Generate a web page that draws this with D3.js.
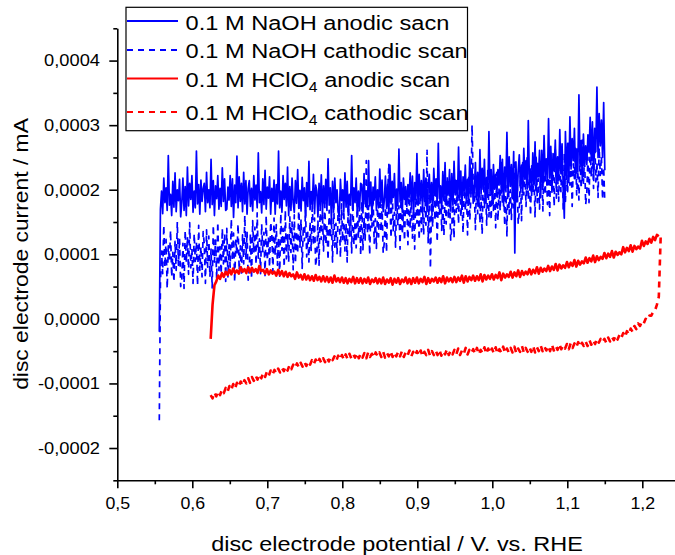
<!DOCTYPE html>
<html lang="en">
<head>
<meta charset="UTF-8">
<title>Disc electrode current vs potential</title>
<script src="https://cdn.jsdelivr.net/npm/d3@7"></script>
<style>
  body { margin: 0; background: #fff; }
  svg { display: block; font-family: "Liberation Sans", Arial, sans-serif; }
  .axis path, .axis line { stroke: #000; stroke-width: 1.6px; }
  .axis text { font-size: 16.8px; fill: #000; font-family: "Liberation Sans", Arial, sans-serif; }
  .trace { fill: none; stroke-linejoin: round; }
</style>
</head>
<body>
<svg id="chart" width="675" height="555"></svg>
<script>
// currents are stored in units of 1e-6 mA, potentials in V vs RHE
var currentUnit = 1e-6;

// 0.1 M NaOH, potential grid 0.556 V .. 1.150 V
var naohStart = 0.556, naohStep = 0.0015;
var naohAnodic = [
  -20, 170, 198, 163, 218, 180, 203, 168, 253, 176, 193, 160, 213, 173, 226, 166, 200, 183, 216, 158,
  180, 218, 168, 205, 160, 235, 175, 210, 185, 222, 165, 198, 172, 260, 178, 208, 162, 215, 182, 202,
  210, 166, 227, 180, 200, 172, 247, 177, 214, 160, 206, 186, 222, 170, 202, 174, 234, 182, 217, 168,
  170, 204, 184, 222, 174, 217, 157, 207, 180, 252, 172, 220, 182, 210, 166, 227, 178, 214, 162, 202,
  214, 174, 202, 167, 222, 184, 207, 172, 257, 180, 197, 164, 217, 177, 230, 170, 204, 187, 220, 162,
  202, 182, 215, 162, 208, 178, 260, 172, 198, 165, 222, 185, 210, 175, 235, 160, 205, 168, 218, 180,
  165, 214, 179, 231, 171, 199, 167, 219, 183, 203, 157, 211, 174, 244, 169, 197, 177, 224, 163, 207,
  198, 158, 210, 174, 223, 162, 206, 178, 216, 168, 248, 176, 203, 153, 213, 170, 218, 180, 200, 166,
  158, 216, 183, 200, 166, 226, 173, 213, 160, 193, 176, 253, 168, 203, 180, 218, 163, 198, 170, 210,
  208, 164, 225, 178, 198, 170, 245, 175, 212, 158, 204, 184, 220, 168, 200, 172, 232, 180, 215, 166,
  183, 221, 171, 208, 163, 238, 178, 213, 188, 225, 168, 201, 175, 263, 181, 211, 165, 218, 185, 205,
  174, 208, 188, 226, 178, 221, 161, 211, 184, 256, 176, 224, 186, 214, 170, 231, 182, 218, 166, 206,
  224, 180, 211, 172, 233, 191, 217, 178, 272, 187, 206, 169, 228, 183, 242, 176, 213, 194, 231, 167,
  225, 176, 244, 192, 214, 183, 266, 188, 229, 170, 220, 198, 238, 181, 216, 185, 251, 194, 233, 179,
  198, 242, 185, 227, 175, 262, 193, 233, 204, 247, 181, 219, 189, 290, 196, 231, 178, 239, 201, 224,
  191, 231, 207, 253, 195, 247, 175, 235, 203, 289, 193, 251, 205, 239, 186, 259, 102, 243, 181, 229,
  254, 204, 238, 195, 264, 216, 245, 201, 307, 211, 232, 191, 257, 207, 274, 198, 241, 220, 261, 188,
  261, 204, 284, 222, 248, 212, 310, 218, 267, 196, 256, 230, 277, 209, 251, 215, 293, 225, 271, 207,
  156, 290, 222, 272, 211, 313, 232, 279, 245, 295, 218, 263, 228, 347, 236, 276, 214, 286, 241, 268,
  239, 285, 258, 312, 247, 305, 223, 295, 259, 359, 250, 318, 268, 308, 250, 335, 230
];
var naohCathodic = [
  -157, 55, 105, 70, 145, 80, 123, 47, 113, 90, 137, 65, 103, 57, 120, 75, 150, 83, 125, 50,
  62, 117, 47, 137, 87, 127, 69, 149, 79, 109, 55, 132, 89, 119, 52, 145, 75, 112, 65, 135,
  115, 55, 138, 80, 128, 65, 108, 48, 145, 88, 122, 62, 150, 75, 112, 70, 140, 85, 132, 58,
  140, 65, 115, 80, 155, 90, 133, 57, 123, 100, 147, 75, 113, 67, 130, 85, 160, 93, 135, 60,
  77, 132, 62, 152, 102, 142, 84, 164, 94, 124, 70, 147, 104, 134, 67, 160, 90, 127, 80, 150,
  133, 73, 156, 98, 146, 83, 126, 66, 163, 106, 140, 80, 168, 93, 130, 88, 158, 103, 150, 76,
  161, 86, 136, 101, 176, 111, 154, 78, 144, 121, 168, 96, 134, 88, 151, 106, 181, 114, 156, 81,
  98, 153, 83, 173, 123, 163, 105, 185, 115, 145, 91, 168, 125, 155, 88, 181, 111, 148, 101, 171,
  155, 95, 178, 120, 168, 105, 148, 88, 185, 128, 162, 102, 190, 115, 152, 110, 180, 125, 172, 98,
  182, 107, 157, 122, 245, 132, 175, 99, 165, 142, 189, 117, 155, 109, 172, 127, 202, 135, 177, 102,
  118, 173, 103, 193, 241, 183, 125, 205, 135, 165, 111, 188, 145, 175, 108, 201, 131, 168, 121, 191,
  175, 115, 198, 140, 188, 125, 168, 108, 205, 148, 182, 122, 210, 135, 172, 130, 200, 145, 261, 118,
  202, 78, 177, 142, 217, 152, 195, 119, 185, 162, 209, 137, 175, 129, 192, 147, 222, 155, 197, 122,
  140, 195, 125, 215, 165, 205, 147, 227, 157, 187, 133, 210, 167, 197, 130, 223, 153, 190, 300, 213,
  198, 138, 221, 163, 211, 148, 191, 131, 228, 171, 205, 145, 233, 158, 195, 153, 223, 168, 215, 141,
  227, 152, 202, 167, 242, 177, 220, 144, 210, 127, 234, 162, 200, 154, 217, 172, 247, 180, 222, 147,
  167, 222, 152, 242, 192, 232, 174, 254, 184, 214, 160, 237, 194, 224, 157, 250, 180, 217, 170, 240,
  227, 167, 250, 192, 240, 177, 220, 160, 257, 200, 234, 174, 262, 187, 224, 182, 252, 197, 244, 170,
  257, 182, 232, 197, 272, 207, 250, 174, 240, 217, 264, 192, 230, 184, 247, 202, 277, 210, 252, 177,
  195, 250, 180, 270, 220, 260, 202, 282, 212, 242, 188, 265, 222, 252, 185, 235, 180
];

// 0.1 M HClO4, potential grid 0.6245 V .. 1.2245 V
var hclo4Start = 0.6245, hclo4Step = 0.0025;
var hclo4Anodic = [
  -31, 22, 52, 58, 67, 62, 71, 65, 73, 68,
  76, 69, 78, 71, 75, 70, 80, 73, 77, 71,
  80, 72, 79, 73, 77, 71, 82, 74, 76, 70,
  77, 69, 75, 70, 73, 67, 76, 68, 74, 66,
  73, 65, 71, 66, 69, 62, 72, 64, 68, 61,
  69, 61, 67, 60, 66, 59, 68, 60, 65, 58,
  66, 58, 65, 57, 64, 56, 67, 58, 63, 57,
  64, 56, 63, 55, 62, 57, 65, 55, 63, 56,
  63, 55, 62, 56, 64, 54, 61, 57, 63, 55,
  62, 55, 64, 54, 61, 56, 63, 53, 62, 56,
  63, 54, 61, 57, 64, 55, 62, 54, 63, 56,
  64, 55, 62, 57, 65, 54, 63, 56, 62, 58,
  64, 56, 63, 57, 66, 55, 64, 58, 63, 57,
  65, 57, 64, 59, 67, 56, 66, 58, 65, 60,
  67, 59, 66, 60, 69, 58, 68, 61, 67, 62,
  69, 61, 68, 63, 72, 60, 70, 64, 69, 65,
  73, 64, 72, 66, 75, 65, 74, 68, 73, 69,
  77, 69, 76, 71, 80, 70, 79, 73, 78, 74,
  82, 74, 81, 76, 85, 75, 84, 78, 83, 79,
  88, 80, 87, 82, 91, 81, 90, 84, 89, 86,
  95, 87, 94, 89, 98, 88, 97, 91, 96, 93,
  102, 94, 101, 96, 105, 95, 104, 99, 103, 100,
  111, 103, 110, 105, 114, 104, 113, 108, 112, 109,
  121, 113, 120, 116, 124, 118, 127, 122, 130, 128
];
var hclo4Cathodic = [
  -118, -123, -114, -120, -112, -118, -110, -115, -107, -113,
  -104, -110, -101, -108, -99, -105, -97, -103, -95, -100,
  -92, -99, -90, -96, -88, -94, -86, -92, -84, -90,
  -82, -88, -80, -86, -79, -84, -77, -83, -76, -81,
  -74, -80, -72, -78, -71, -76, -69, -75, -68, -74,
  -67, -73, -66, -71, -64, -70, -63, -69, -62, -68,
  -61, -67, -60, -66, -59, -64, -58, -65, -57, -63,
  -56, -63, -55, -62, -54, -61, -55, -60, -53, -61,
  -54, -60, -53, -61, -52, -59, -54, -60, -52, -58,
  -52, -59, -51, -60, -53, -58, -50, -59, -52, -58,
  -51, -58, -50, -59, -52, -57, -49, -58, -51, -57,
  -50, -57, -49, -58, -51, -56, -48, -57, -50, -56,
  -49, -56, -48, -57, -50, -55, -47, -56, -49, -55,
  -48, -55, -46, -56, -49, -54, -45, -55, -48, -53,
  -47, -54, -45, -55, -48, -53, -44, -54, -46, -53,
  -46, -53, -44, -54, -47, -52, -43, -53, -46, -52,
  -45, -52, -43, -53, -46, -51, -42, -52, -45, -51,
  -44, -51, -42, -52, -44, -50, -41, -50, -43, -49,
  -42, -50, -40, -49, -42, -48, -39, -47, -41, -46,
  -39, -47, -38, -45, -38, -44, -36, -43, -37, -42,
  -35, -42, -33, -40, -33, -39, -31, -37, -31, -36,
  -31, -37, -29, -35, -28, -33, -26, -32, -25, -30,
  -22, -28, -19, -24, -15, -20, -11, -16, -7, -11,
  -4, -7, 0, -2, 5, 5, 11, 13, 22, 34,
  127
];

var xMajorTicks = [0.5, 0.6, 0.7, 0.8, 0.9, 1.0, 1.1, 1.2];
var xMinorTicks = [0.55, 0.65, 0.75, 0.85, 0.95, 1.05, 1.15, 1.25];
var yMajorTicks = [-0.0002, -0.0001, 0, 0.0001, 0.0002, 0.0003, 0.0004];
var yMinorTicks = [-0.00025, -0.00015, -0.00005, 0.00005, 0.00015, 0.00025, 0.00035, 0.00045];

var legendItems = [
  {pre: "0.1 M NaOH anodic sacn", sub: "", post: "", color: "#0000ff", dashed: false},
  {pre: "0.1 M NaOH cathodic scan", sub: "", post: "", color: "#0000ff", dashed: true},
  {pre: "0.1 M HClO", sub: "4", post: " anodic scan", color: "#ff0000", dashed: false},
  {pre: "0.1 M HClO", sub: "4", post: " cathodic scan", color: "#ff0000", dashed: true}
];

var svg = d3.select("#chart");

var x = d3.scaleLinear().domain([0.5, 1.25]).range([117.3, 679.8]);
var y = d3.scaleLinear().domain([-0.00025, 0.00045]).range([480.3, 28.3]);

function commaFmt(d, n) {
  var s = Math.abs(d).toFixed(n).replace(".", ",");
  return (d < -1e-12 ? "-" : "") + s;
}

// widen text a little, the original figure is stretched horizontally
function stretch(sel, k) {
  sel.each(function() {
    var w = this.getComputedTextLength();
    d3.select(this).attr("textLength", w * k).attr("lengthAdjust", "spacingAndGlyphs");
  });
}

function toPoints(values, start, step) {
  return values.map(function(v, i) { return [start + i * step, v * currentUnit]; });
}

var line = d3.line()
  .x(function(d) { return x(d[0]); })
  .y(function(d) { return y(d[1]); });

var dash = "6,5";
var traces = [
  {values: naohAnodic, start: naohStart, step: naohStep, color: "#0000ff", dashed: false, width: 1.7},
  {values: naohCathodic, start: naohStart, step: naohStep, color: "#0000ff", dashed: true, width: 1.7},
  {values: hclo4Anodic, start: hclo4Start, step: hclo4Step, color: "#ff0000", dashed: false, width: 2.6},
  {values: hclo4Cathodic, start: hclo4Start, step: hclo4Step, color: "#ff0000", dashed: true, width: 2.6}
];

svg.append("g").selectAll("path")
  .data(traces)
  .enter().append("path")
  .attr("class", "trace")
  .attr("d", function(t) { return line(toPoints(t.values, t.start, t.step)); })
  .attr("stroke", function(t) { return t.color; })
  .attr("stroke-width", function(t) { return t.width; })
  .attr("stroke-dasharray", function(t) { return t.dashed ? dash : null; });

// axes
var gx = svg.append("g").attr("class", "axis").attr("transform", "translate(0," + y.range()[0] + ")");
gx.call(d3.axisBottom(x).tickValues(xMinorTicks).tickSize(4).tickSizeOuter(0).tickFormat(""));
gx.append("g").call(d3.axisBottom(x).tickValues(xMajorTicks).tickSize(8).tickPadding(9)
  .tickSizeOuter(0).tickFormat(function(d) { return commaFmt(d, 1); }));
gx.selectAll(".domain").filter(function(d, i) { return i > 0; }).remove();
stretch(gx.selectAll("text"), 1.06);

var gy = svg.append("g").attr("class", "axis").attr("transform", "translate(" + x.range()[0] + ",0)");
gy.call(d3.axisLeft(y).tickValues(yMinorTicks).tickSize(4).tickSizeOuter(0).tickFormat(""));
gy.append("g").call(d3.axisLeft(y).tickValues(yMajorTicks).tickSize(8).tickPadding(9.3)
  .tickSizeOuter(0).tickFormat(function(d) { return commaFmt(d, 4); }));
gy.selectAll(".domain").filter(function(d, i) { return i > 0; }).remove();
stretch(gy.selectAll("text"), 1.09);

// axis titles
var xTitle = svg.append("text")
  .attr("x", 397).attr("y", 551)
  .attr("text-anchor", "middle")
  .attr("font-size", 21)
  .text("disc electrode potential / V. vs. RHE");
stretch(xTitle, 1.116);

var yTitle = svg.append("text")
  .attr("transform", "translate(28.3,254) rotate(-90)")
  .attr("text-anchor", "middle")
  .attr("font-size", 21)
  .text("disc electrode current / mA");
stretch(yTitle, 1.088);

// legend
var legend = svg.append("g");
legend.append("rect")
  .attr("x", 126).attr("y", 7.3)
  .attr("width", 341.5).attr("height", 123.4)
  .attr("fill", "#fff").attr("stroke", "#000").attr("stroke-width", 1.2);

var rowBaselines = [30, 58.3, 86.8, 120];
var rowLines = [21, 50, 78.5, 112];

var rows = legend.selectAll("g.row").data(legendItems).enter().append("g").attr("class", "row");
rows.append("line")
  .attr("x1", 127).attr("x2", 178)
  .attr("y1", function(d, i) { return rowLines[i]; })
  .attr("y2", function(d, i) { return rowLines[i]; })
  .attr("stroke", function(d) { return d.color; })
  .attr("stroke-width", 1.8)
  .attr("stroke-dasharray", function(d) { return d.dashed ? dash : null; });

rows.append("text")
  .attr("transform", function(d, i) { return "translate(185.5," + rowBaselines[i] + ") scale(1.125,1)"; })
  .attr("font-size", 21)
  .each(function(d) {
    var t = d3.select(this);
    t.append("tspan").text(d.pre);
    if (d.sub) {
      t.append("tspan").attr("font-size", 14).attr("dy", 5).text(d.sub);
      t.append("tspan").attr("dy", -5).text(d.post);
    }
  });
</script>
</body>
</html>
